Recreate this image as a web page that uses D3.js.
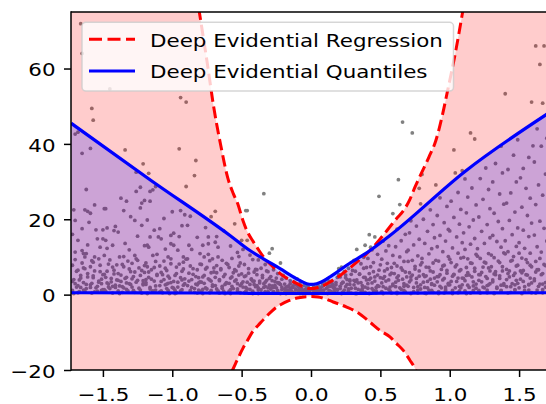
<!DOCTYPE html>
<html>
<head>
<meta charset="utf-8">
<script src="https://cdn.jsdelivr.net/npm/d3@7"></script>
<style>
  html, body { margin: 0; padding: 0; background: #ffffff; }
  svg { display: block; }
</style>
</head>
<body>
<svg id="chart" width="546" height="404"></svg>
<script>
// ---- Deep Evidential Regression: predicted band (lower / upper bound) ----
const derX = [-1.73, -1.4, -1.1, -0.95, -0.805, -0.75, -0.70, -0.65, -0.60, -0.56, -0.53, -0.49, -0.46, -0.415, -0.38, -0.34, -0.28, -0.247, -0.22, -0.16, -0.10, -0.05, 0, 0.05, 0.11, 0.16, 0.21, 0.257, 0.33, 0.425, 0.497, 0.569, 0.617, 0.665, 0.713, 0.75, 0.79, 0.85, 0.90, 0.945, 0.985, 1.04, 1.093, 1.2, 1.4, 1.73];
const derUpper = [420, 260, 150, 108, 75, 62, 49.5, 39.5, 31.0, 26.8, 24.3, 19.6, 16.8, 14.0, 12.0, 9.9, 7.6, 6.5, 5.5, 4.1, 2.9, 2.0, 1.6, 1.9, 2.8, 3.9, 5.1, 6.4, 8.6, 11.7, 14.7, 18.0, 20.2, 22.2, 25.3, 28.6, 31.8, 36.5, 40.9, 47.3, 54.2, 64, 75, 100, 160, 300];
const derLower = [-420, -240, -125, -85, -51, -42, -34, -28, -22.5, -19.6, -17.2, -14.2, -12.3, -9.5, -8.1, -6.5, -4.3, -3.3, -2.7, -1.6, -0.9, -0.6, -0.5, -0.6, -1.2, -1.95, -2.6, -3.3, -4.6, -7.3, -9.5, -11.2, -13.0, -14.8, -17.4, -19.6, -23.5, -30, -37, -45, -52, -62, -73, -100, -160, -400];

// ---- Deep Evidential Quantiles: lower / upper quantile ----
const dqX = [-1.73, -1.153, -0.584, -0.44, -0.343, -0.223, -0.103, -0.031, 0.0, 0.041, 0.137, 0.257, 0.425, 0.569, 1.117, 1.73];
const dqUpper = [45.5, 30.3, 15.7, 11.7, 9.5, 6.9, 4.2, 2.9, 2.7, 2.9, 4.7, 7.8, 11.7, 15.7, 32.9, 48.6];
const dqLower = [0.5, 0.45, 0.4, 0.35, 0.35, 0.3, 0.3, 0.3, 0.3, 0.3, 0.3, 0.35, 0.35, 0.4, 0.45, 0.5];

// ---- observed samples [x, y] ----
const observations = [
[-1.66,71.9],[-1.65,64.0],[-1.70,42.6],[-1.68,43.1],[-1.65,37.5],[-1.62,27.9],[-1.63,22.5],[-1.61,22.1],[-1.71,22.5],[-1.70,19.7],[-1.68,14.4],[-1.70,11.3],[-1.65,11.7],[-1.62,10.9],[-1.63,10.0],[-1.72,7.8],[-1.69,6.2],[-1.66,5.1],[-1.71,4.0],[-1.64,3.2],[-1.68,2.4],[-1.62,1.6],[-1.72,1.1],[-1.67,0.8],[-1.61,4.7],[-1.70,2.9],[-1.65,8.4],[-1.63,6.9],[-1.72,16.0],[-1.66,1.9],[-1.61,13.2],[-1.68,0.5],[-1.65,17.5],[-1.64,10.9],
[-1.58,49.4],[-1.57,46.3],[-1.59,38.8],[-1.56,23.8],[-1.60,19.2],[-1.55,17.2],[-1.54,14.8],[-1.56,10.0],[-1.53,9.5],[-1.59,7.4],[-1.52,6.1],[-1.57,5.0],[-1.51,4.1],[-1.58,3.0],[-1.54,2.2],[-1.50,1.3],[-1.56,0.7],[-1.53,3.6],[-1.59,1.9],[-1.52,12.6],[-1.57,8.6],[-1.59,21.6],
[-1.45,54.6],[-1.48,22.8],[-1.49,22.8],[-1.50,17.2],[-1.47,17.7],[-1.42,17.0],[-1.50,14.8],[-1.48,14.4],[-1.43,13.1],[-1.47,12.3],[-1.41,18.1],[-1.49,10.4],[-1.46,8.1],[-1.42,6.5],[-1.49,5.4],[-1.44,4.3],[-1.47,3.1],[-1.41,2.5],[-1.45,1.6],[-1.48,0.9],[-1.43,7.3],[-1.40,3.9],[-1.46,2.0],
[-1.34,38.4],[-1.37,25.6],[-1.33,24.8],[-1.35,22.3],[-1.30,20.7],[-1.39,16.6],[-1.38,10.0],[-1.35,10.1],[-1.36,8.0],[-1.31,6.8],[-1.39,5.6],[-1.33,4.6],[-1.37,3.5],[-1.30,2.7],[-1.35,1.8],[-1.32,1.0],[-1.38,2.3],[-1.31,11.9],[-1.34,13.6],[-1.36,0.6],
[-1.26,32.5],[-1.21,34.7],[-1.23,28.5],[-1.26,27.4],[-1.22,24.3],[-1.23,23.0],[-1.27,19.7],[-1.22,18.4],[-1.27,10.4],[-1.26,9.5],[-1.29,8.3],[-1.24,7.1],[-1.20,5.9],[-1.28,4.8],[-1.25,3.8],[-1.21,2.9],[-1.29,2.0],[-1.23,1.2],[-1.27,0.6],[-1.20,13.0],[-1.25,15.5],[-1.22,6.4],
[-1.17,32.2],[-1.14,27.8],[-1.16,27.4],[-1.12,28.7],[-1.20,25.0],[-1.16,24.8],[-1.16,15.3],[-1.18,13.1],[-1.17,12.6],[-1.14,10.4],[-1.11,10.7],[-1.19,8.4],[-1.13,7.2],[-1.17,6.0],[-1.11,5.1],[-1.15,4.1],[-1.19,3.2],[-1.12,2.3],[-1.16,1.5],[-1.14,0.8],[-1.18,19.8],[-1.13,17.1],
[-1.09,17.5],[-1.01,15.7],[-1.10,15.3],[-1.08,14.8],[-1.01,13.5],[-1.03,10.0],[-1.01,9.5],[-1.06,8.9],[-1.09,7.6],[-1.04,6.4],[-1.07,5.3],[-1.02,4.4],[-1.08,3.5],[-1.05,2.6],[-1.00,1.9],[-1.03,1.1],[-1.07,0.5],[-1.05,12.1],[-1.00,22.0],[-1.06,20.2],[-1.03,3.0],
[-0.94,52.3],[-0.90,51.1],[-0.95,38.7],[-0.90,28.7],[-0.94,22.3],[-0.91,21.2],[-0.99,16.3],[-0.95,15.4],[-0.99,13.1],[-0.92,10.0],[-0.92,8.6],[-0.97,7.3],[-0.93,6.2],[-0.98,5.1],[-0.91,4.2],[-0.96,3.3],[-0.92,2.5],[-0.99,1.7],[-0.94,1.0],[-0.97,0.5],[-0.96,11.8],[-0.93,18.3],
[-0.83,35.6],[-0.84,31.6],[-0.89,18.4],[-0.88,13.1],[-0.89,9.5],[-0.80,10.9],[-0.87,7.6],[-0.82,6.6],[-0.85,5.4],[-0.81,4.5],[-0.88,3.6],[-0.83,2.8],[-0.86,1.9],[-0.81,1.2],[-0.84,0.6],[-0.86,12.0],[-0.82,15.2],[-0.87,20.8],[-0.80,3.4],
[-0.78,13.1],[-0.74,13.5],[-0.74,15.3],[-0.77,10.0],[-0.74,10.7],[-0.71,9.5],[-0.72,20.7],[-0.79,8.0],[-0.76,6.8],[-0.72,5.8],[-0.78,4.7],[-0.73,3.9],[-0.77,3.0],[-0.71,2.2],[-0.75,1.5],[-0.79,0.9],[-0.73,0.5],[-0.76,17.8],[-0.70,7.1],
[-0.69,22.1],[-0.68,15.4],[-0.69,13.9],[-0.67,12.6],[-0.67,10.0],[-0.64,9.1],[-0.68,7.7],[-0.65,6.6],[-0.62,5.4],[-0.69,4.6],[-0.66,3.7],[-0.61,3.0],[-0.64,2.2],[-0.68,1.5],[-0.63,0.9],[-0.66,0.4],[-0.61,8.3],[-0.63,17.0],
[-0.55,18.8],[-0.50,14.4],[-0.58,12.9],[-0.53,11.2],[-0.57,9.6],[-0.51,8.4],[-0.59,7.2],[-0.54,6.3],[-0.52,5.2],[-0.58,4.4],[-0.55,3.6],[-0.50,2.9],[-0.57,2.2],[-0.53,1.5],[-0.59,0.9],[-0.51,0.5],[-0.56,5.8],[-0.52,10.1],
[-0.47,22.3],[-0.46,22.3],[-0.46,14.4],[-0.49,12.0],[-0.44,10.5],[-0.42,9.3],[-0.48,8.0],[-0.45,6.9],[-0.41,6.0],[-0.47,5.0],[-0.43,4.2],[-0.49,3.4],[-0.44,2.7],[-0.40,2.1],[-0.46,1.5],[-0.42,0.9],[-0.48,0.5],[-0.41,3.6],
[-0.34,26.8],[-0.38,9.2],[-0.33,8.0],[-0.36,7.0],[-0.31,6.1],[-0.39,5.3],[-0.35,4.5],[-0.32,3.8],[-0.37,3.1],[-0.30,2.5],[-0.34,1.9],[-0.38,1.3],[-0.31,0.8],[-0.36,0.4],[-0.33,2.2],[-0.39,6.6],
[-0.28,12.2],[-0.30,11.0],[-0.22,8.4],[-0.27,6.6],[-0.24,5.6],[-0.29,4.8],[-0.21,4.1],[-0.26,3.5],[-0.23,2.9],[-0.28,2.3],[-0.25,1.8],[-0.21,1.3],[-0.27,0.8],[-0.23,0.4],[-0.29,1.5],[-0.24,3.2],
[-0.10,4.2],[-0.18,4.4],[-0.15,3.7],[-0.12,3.1],[-0.19,2.8],[-0.16,2.3],[-0.13,1.9],[-0.11,1.5],[-0.17,1.2],[-0.14,0.9],[-0.19,0.6],[-0.12,0.4],[-0.15,1.6],[-0.18,2.0],[-0.11,2.6],
[-0.08,2.9],[-0.05,2.4],[-0.09,2.0],[-0.03,1.8],[-0.07,1.5],[-0.02,1.2],[-0.06,1.0],[-0.09,0.8],[-0.04,0.6],[-0.01,0.4],[-0.08,1.2],[-0.03,2.2],[-0.06,0.3],
[0.02,2.1],[0.05,2.5],[0.08,3.0],[0.01,1.6],[0.04,1.3],[0.07,1.9],[0.09,1.1],[0.03,0.8],[0.06,0.5],[0.09,2.4],[0.02,0.4],[0.05,1.0],[0.08,0.7],
[0.20,6.9],[0.12,4.2],[0.15,3.6],[0.18,3.2],[0.11,2.7],[0.14,2.2],[0.17,1.8],[0.19,1.4],[0.13,1.1],[0.16,0.7],[0.11,0.4],[0.19,4.6],[0.16,2.6],[0.13,3.5],
[0.22,7.3],[0.27,7.0],[0.24,6.1],[0.29,5.4],[0.21,4.7],[0.26,4.0],[0.23,3.3],[0.28,2.7],[0.25,2.1],[0.21,1.6],[0.27,1.1],[0.23,0.7],[0.29,0.4],[0.25,5.2],[0.28,3.6],
[0.33,12.0],[0.39,13.1],[0.31,9.1],[0.36,8.2],[0.38,7.0],[0.32,6.2],[0.35,5.4],[0.39,4.6],[0.31,3.8],[0.34,3.1],[0.37,2.4],[0.32,1.7],[0.36,1.1],[0.39,0.6],[0.33,0.3],[0.38,9.9],
[0.49,26.1],[0.42,15.9],[0.46,15.3],[0.44,11.9],[0.48,10.7],[0.41,9.6],[0.45,8.5],[0.43,7.4],[0.49,6.5],[0.42,5.6],[0.46,4.7],[0.40,3.9],[0.44,3.1],[0.48,2.4],[0.41,1.7],[0.45,1.1],[0.47,0.5],[0.43,12.6],
[0.59,21.5],[0.52,14.2],[0.56,13.0],[0.54,11.6],[0.59,10.4],[0.51,9.4],[0.55,8.3],[0.58,7.2],[0.53,6.3],[0.57,5.3],[0.50,4.5],[0.54,3.6],[0.59,2.8],[0.52,2.1],[0.56,1.4],[0.51,0.8],[0.58,0.4],
[0.66,45.8],[0.63,30.5],[0.64,23.9],[0.62,17.4],[0.68,16.0],[0.65,14.3],[0.61,12.7],[0.69,11.4],[0.64,10.0],[0.67,8.8],[0.62,7.6],[0.66,6.5],[0.60,5.6],[0.69,4.7],[0.63,3.8],[0.67,2.9],[0.61,2.1],[0.65,1.4],[0.68,0.7],[0.62,0.3],
[0.73,42.9],[0.80,31.9],[0.78,28.2],[0.79,24.1],[0.72,19.6],[0.76,18.2],[0.71,16.4],[0.78,14.7],[0.74,13.2],[0.70,11.8],[0.77,10.3],[0.73,9.1],[0.79,7.9],[0.75,6.8],[0.71,5.8],[0.78,4.9],[0.72,3.9],[0.76,3.1],[0.70,2.2],[0.79,1.5],[0.74,0.8],[0.77,0.4],
[0.90,29.1],[0.86,22.5],[0.81,20.0],[0.88,18.6],[0.84,16.8],[0.89,15.1],[0.82,13.6],[0.87,12.2],[0.85,10.8],[0.80,9.6],[0.88,8.4],[0.83,7.3],[0.86,6.3],[0.81,5.3],[0.89,4.4],[0.84,3.5],[0.87,2.7],[0.82,1.9],[0.85,1.2],[0.88,0.6],[0.83,0.3],
[0.93,25.7],[0.98,23.4],[0.91,21.0],[0.96,19.1],[0.99,17.3],[0.93,15.7],[0.97,14.2],[0.91,12.7],[0.95,11.4],[0.99,10.1],[0.92,8.9],[0.96,7.8],[0.94,6.7],[0.98,5.7],[0.91,4.8],[0.95,3.9],[0.99,3.0],[0.93,2.2],[0.97,1.5],[0.92,0.8],[0.96,0.4],
[1.03,38.4],[1.04,32.3],[1.09,32.9],[1.06,27.1],[1.01,24.8],[1.08,22.6],[1.03,20.5],[1.07,18.7],[1.00,16.9],[1.05,15.3],[1.09,13.8],[1.02,12.4],[1.06,11.0],[1.08,9.7],[1.01,8.5],[1.04,7.4],[1.07,6.3],[1.03,5.3],[1.09,4.4],[1.05,3.5],[1.00,2.6],[1.08,1.8],[1.02,1.1],[1.06,0.5],
[1.15,42.9],[1.18,41.3],[1.11,30.7],[1.16,28.3],[1.13,25.9],[1.19,23.8],[1.12,21.7],[1.17,19.8],[1.14,18.0],[1.10,16.4],[1.18,14.9],[1.15,13.4],[1.11,12.0],[1.19,10.7],[1.13,9.5],[1.16,8.3],[1.12,7.2],[1.18,6.2],[1.14,5.2],[1.10,4.3],[1.17,3.4],[1.13,2.5],[1.19,1.7],[1.11,1.0],[1.15,0.4],
[1.26,33.6],[1.22,30.8],[1.28,27.9],[1.24,25.3],[1.29,22.8],[1.21,20.6],[1.27,18.6],[1.23,16.8],[1.29,15.1],[1.25,13.6],[1.20,12.2],[1.28,10.9],[1.22,9.6],[1.26,8.4],[1.24,7.3],[1.29,6.3],[1.21,5.3],[1.27,4.3],[1.23,3.4],[1.28,2.6],[1.25,1.8],[1.21,1.1],[1.27,0.5],
[1.40,53.3],[1.37,39.4],[1.38,32.3],[1.33,34.8],[1.31,29.9],[1.36,26.7],[1.39,24.0],[1.32,21.6],[1.35,19.4],[1.38,17.5],[1.31,15.7],[1.34,14.1],[1.37,12.6],[1.39,11.1],[1.32,9.8],[1.36,8.5],[1.30,7.4],[1.38,6.3],[1.33,5.3],[1.36,4.3],[1.31,3.4],[1.39,2.5],[1.34,1.7],[1.37,1.0],[1.32,0.4],
[1.49,41.1],[1.46,37.0],[1.42,33.2],[1.48,29.9],[1.44,27.0],[1.41,24.3],[1.47,21.9],[1.43,19.7],[1.49,17.7],[1.45,15.9],[1.40,14.3],[1.48,12.8],[1.42,11.4],[1.46,10.1],[1.44,8.9],[1.49,7.8],[1.41,6.7],[1.47,5.7],[1.43,4.7],[1.48,3.8],[1.45,2.9],[1.41,2.1],[1.47,1.3],[1.44,0.6],
[1.59,51.1],[1.53,33.5],[1.60,39.5],[1.57,36.4],[1.51,31.0],[1.55,28.2],[1.58,25.6],[1.52,23.2],[1.56,21.0],[1.59,19.0],[1.53,17.1],[1.57,15.4],[1.50,13.8],[1.54,12.3],[1.58,11.0],[1.52,9.7],[1.56,8.5],[1.59,7.4],[1.51,6.3],[1.55,5.3],[1.58,4.4],[1.53,3.5],[1.57,2.6],[1.50,1.8],[1.54,1.1],[1.59,0.5],
[1.62,66.0],[1.68,66.0],[1.65,61.1],[1.67,50.8],[1.66,39.4],[1.63,44.0],[1.70,41.5],[1.61,35.2],[1.69,32.0],[1.64,29.1],[1.67,26.4],[1.62,23.9],[1.71,21.6],[1.65,19.5],[1.68,17.6],[1.61,15.8],[1.70,14.2],[1.63,12.7],[1.66,11.3],[1.72,10.0],[1.62,8.8],[1.69,7.7],[1.64,6.6],[1.67,5.6],[1.71,4.6],[1.61,3.7],[1.65,2.8],[1.69,2.0],[1.63,1.2],[1.67,0.5],
// dense band close to zero
[-1.71,0.3],[-1.64,1.2],[-1.69,2.0],[-1.62,2.7],[-1.72,3.5],[-1.66,4.4],[-1.61,5.6],[-1.68,6.5],[-1.64,7.1],[-1.70,9.3],[-1.63,0.9],[-1.67,3.9],
[-1.58,0.4],[-1.51,1.1],[-1.55,1.8],[-1.59,2.6],[-1.53,3.3],[-1.57,4.5],[-1.50,5.3],[-1.56,6.3],[-1.52,7.8],[-1.58,9.0],[-1.54,0.9],[-1.51,2.9],
[-1.43,0.4],[-1.49,1.3],[-1.41,1.9],[-1.46,2.8],[-1.44,3.4],[-1.48,4.6],[-1.42,5.5],[-1.47,6.2],[-1.40,7.9],[-1.45,9.2],[-1.49,0.7],[-1.43,2.2],
[-1.38,0.3],[-1.33,1.4],[-1.36,2.1],[-1.31,2.9],[-1.39,3.8],[-1.34,4.3],[-1.37,5.2],[-1.30,6.1],[-1.35,7.4],[-1.32,8.9],[-1.39,1.0],[-1.33,3.1],
[-1.22,0.4],[-1.28,1.1],[-1.24,1.7],[-1.21,2.6],[-1.26,3.3],[-1.29,4.2],[-1.23,5.1],[-1.27,6.0],[-1.20,7.7],[-1.25,9.1],[-1.28,0.8],[-1.21,3.7],
[-1.18,0.3],[-1.12,1.2],[-1.16,1.9],[-1.19,2.7],[-1.13,3.6],[-1.17,4.6],[-1.11,5.4],[-1.15,6.6],[-1.18,7.4],[-1.12,8.8],[-1.14,1.0],[-1.19,4.0],
[-1.02,0.3],[-1.08,1.0],[-1.04,1.6],[-1.09,2.4],[-1.01,3.2],[-1.06,4.0],[-1.03,4.9],[-1.08,5.9],[-1.05,7.0],[-1.01,8.2],[-1.09,0.7],[-1.04,2.8],
[-0.98,0.3],[-0.93,1.3],[-0.96,2.0],[-0.91,2.9],[-0.99,3.5],[-0.94,4.5],[-0.97,5.6],[-0.92,6.8],[-0.95,8.1],[-0.90,9.4],[-0.98,1.1],[-0.93,3.9],
[-0.82,0.4],[-0.87,1.1],[-0.84,1.6],[-0.89,2.4],[-0.81,3.1],[-0.86,4.0],[-0.83,4.8],[-0.88,5.7],[-0.85,6.9],[-0.80,8.1],[-0.87,0.7],[-0.82,2.6],
[-0.78,0.3],[-0.72,1.1],[-0.76,1.8],[-0.71,2.6],[-0.79,3.3],[-0.74,4.2],[-0.77,5.1],[-0.70,6.0],[-0.75,7.2],[-0.73,9.0],[-0.78,1.4],[-0.72,3.6],
[-0.62,0.3],[-0.67,1.0],[-0.64,1.7],[-0.69,2.4],[-0.61,3.2],[-0.66,4.0],[-0.63,4.8],[-0.68,5.8],[-0.65,6.9],[-0.60,8.0],[-0.67,0.6],[-0.62,2.7],
[-0.58,0.3],[-0.53,1.0],[-0.56,1.6],[-0.51,2.4],[-0.59,3.0],[-0.54,3.9],[-0.57,4.7],[-0.50,5.5],[-0.55,6.6],[-0.52,7.6],[-0.58,1.3],[-0.53,2.9],
[-0.42,0.3],[-0.47,0.9],[-0.44,1.4],[-0.49,2.0],[-0.41,2.7],[-0.46,3.3],[-0.43,4.0],[-0.48,4.8],[-0.45,5.7],[-0.40,6.7],[-0.47,1.9],[-0.42,3.6],
[-0.38,0.3],[-0.33,0.8],[-0.36,1.3],[-0.31,1.8],[-0.39,2.4],[-0.34,2.9],[-0.37,3.6],[-0.30,4.3],[-0.35,5.1],[-0.32,6.3],[-0.38,1.8],[-0.33,3.3],
[-0.22,0.3],[-0.27,0.7],[-0.24,1.1],[-0.29,1.6],[-0.21,2.0],[-0.26,2.5],[-0.23,3.1],[-0.28,3.7],[-0.25,4.4],[-0.20,5.1],[-0.27,1.9],[-0.22,2.7],
[-0.18,0.3],[-0.13,0.6],[-0.16,0.9],[-0.11,1.2],[-0.19,1.5],[-0.14,1.8],[-0.17,2.1],[-0.10,2.5],[-0.15,2.9],[-0.12,3.3],[-0.18,1.0],[-0.13,2.3],
[-0.08,0.3],[-0.03,0.5],[-0.06,0.7],[-0.01,0.9],[-0.09,1.1],[-0.04,1.4],[-0.07,1.7],[-0.02,2.0],[-0.05,1.2],[-0.08,1.8],[-0.04,0.8],[-0.01,1.5],
[0.02,0.3],[0.07,0.6],[0.04,0.9],[0.09,1.2],[0.01,1.4],[0.06,1.7],[0.03,2.0],[0.08,2.2],[0.05,1.5],[0.02,1.0],[0.07,1.3],[0.04,0.5],
[0.12,0.3],[0.17,0.6],[0.14,0.9],[0.19,1.2],[0.11,1.6],[0.16,1.9],[0.13,2.3],[0.18,2.6],[0.15,3.0],[0.10,3.4],[0.17,1.4],[0.12,2.0],
[0.22,0.3],[0.27,0.8],[0.24,1.2],[0.29,1.7],[0.21,2.2],[0.26,2.7],[0.23,3.2],[0.28,3.9],[0.25,4.5],[0.20,5.3],[0.27,1.5],[0.22,2.9],
[0.32,0.3],[0.37,0.9],[0.34,1.4],[0.39,2.0],[0.31,2.6],[0.36,3.2],[0.33,3.9],[0.38,4.6],[0.35,5.5],[0.30,6.4],[0.37,1.6],[0.32,3.5],
[0.42,0.3],[0.47,1.0],[0.44,1.6],[0.49,2.2],[0.41,2.9],[0.46,3.6],[0.43,4.4],[0.48,5.2],[0.45,6.1],[0.40,7.2],[0.47,1.9],[0.42,4.0],
[0.52,0.3],[0.57,1.0],[0.54,1.7],[0.59,2.4],[0.51,3.1],[0.56,3.9],[0.53,4.8],[0.58,5.7],[0.55,6.8],[0.50,7.9],[0.57,2.0],[0.52,4.3],
[0.62,0.6],[0.67,1.1],[0.64,1.8],[0.69,2.5],[0.61,3.3],[0.66,4.1],[0.63,5.0],[0.68,6.0],[0.65,7.1],[0.60,8.3],[0.67,2.2],[0.62,4.5],
[0.72,0.3],[0.77,1.2],[0.74,1.9],[0.79,2.6],[0.71,3.4],[0.76,4.3],[0.73,5.2],[0.78,6.3],[0.75,7.5],[0.70,8.8],[0.77,2.1],[0.72,4.7],
[0.82,0.4],[0.87,1.1],[0.84,1.8],[0.89,2.5],[0.81,3.3],[0.86,4.1],[0.83,5.0],[0.88,6.0],[0.85,7.2],[0.80,8.5],[0.87,2.9],[0.82,4.8],
[0.92,0.3],[0.97,1.1],[0.94,1.8],[0.99,2.6],[0.91,3.4],[0.96,4.3],[0.93,5.3],[0.98,6.4],[0.95,7.6],[0.90,9.1],[0.97,2.0],[0.92,4.8],
[1.02,0.3],[1.07,1.0],[1.04,1.8],[1.09,2.6],[1.01,3.5],[1.06,4.4],[1.03,5.4],[1.08,6.6],[1.05,7.9],[1.00,9.4],[1.07,2.2],[1.02,4.9],
[1.12,0.3],[1.17,1.1],[1.14,1.9],[1.19,2.8],[1.11,3.7],[1.16,4.7],[1.13,5.8],[1.18,7.0],[1.15,8.4],[1.10,9.9],[1.17,2.3],[1.12,5.1],
[1.22,0.4],[1.27,1.2],[1.24,2.0],[1.29,2.9],[1.21,3.8],[1.26,4.8],[1.23,5.9],[1.28,7.1],[1.25,8.6],[1.20,10.2],[1.27,2.4],[1.22,5.3],
[1.32,0.3],[1.37,1.1],[1.34,2.0],[1.39,2.9],[1.31,3.9],[1.36,5.0],[1.33,6.1],[1.38,7.4],[1.35,8.9],[1.30,10.5],[1.37,2.5],[1.32,5.5],
[1.42,0.4],[1.47,1.2],[1.44,2.1],[1.49,3.0],[1.41,4.0],[1.46,5.1],[1.43,6.3],[1.48,7.6],[1.45,9.1],[1.40,10.8],[1.47,2.6],[1.42,5.6],
[1.52,0.3],[1.57,1.2],[1.54,2.1],[1.59,3.1],[1.51,4.1],[1.56,5.2],[1.53,6.4],[1.58,7.8],[1.55,9.3],[1.50,11.0],[1.57,2.7],[1.52,5.8],
[1.62,0.4],[1.67,1.3],[1.64,2.2],[1.69,3.2],[1.61,4.2],[1.66,5.3],[1.63,6.6],[1.68,8.0],[1.65,9.6],[1.71,11.3],[1.67,2.8],[1.62,6.0]
];

// ---- axes ticks ----
const xTicks = [-1.5, -1.0, -0.5, 0.0, 0.5, 1.0, 1.5];
const xTickLabels = ["\u22121.5", "\u22121.0", "\u22120.5", "0.0", "0.5", "1.0", "1.5"];
const yTicks = [-20, 0, 20, 40, 60];
const yTickLabels = ["\u221220", "0", "20", "40", "60"];

// ---- legend entries ----
const legendLabels = ["Deep Evidential Regression", "Deep Evidential Quantiles"];
const legendColors = ["#ff0000", "#0000ff"];

// ---------------------------------------------------------------------------
const FONT = "'DejaVu Sans', 'Liberation Sans', sans-serif";
const FONT_SIZE = 18.5;
const TEXT_SX = 1.157;           // horizontal text stretch of the figure
const plot = { left: 71, top: 12, right: 551, bottom: 370 };

const svg = d3.select("#chart");

const x = d3.scaleLinear().domain([-1.73, 1.73]).range([plot.left, plot.right]);
const y = d3.scaleLinear().domain([-20, 75]).range([plot.bottom, plot.top]);

svg.append("defs").append("clipPath").attr("id", "plotClip")
  .append("rect")
  .attr("x", plot.left).attr("y", plot.top)
  .attr("width", plot.right - plot.left).attr("height", plot.bottom - plot.top);

const body = svg.append("g").attr("clip-path", "url(#plotClip)");

// samples
body.append("g").selectAll("circle")
  .data(observations)
  .join("circle")
  .attr("cx", d => x(d[0]))
  .attr("cy", d => y(d[1]))
  .attr("r", 1.9)
  .attr("fill", "#808080");

// DER band
const derRows = derX.map((v, i) => ({ x: v, lo: derLower[i], hi: derUpper[i] }));
body.append("path")
  .datum(derRows)
  .attr("d", d3.area().x(d => x(d.x)).y0(d => y(d.lo)).y1(d => y(d.hi)).curve(d3.curveMonotoneX))
  .attr("fill", "#ff0000").attr("fill-opacity", 0.2);

// DEQ band
const dqRows = dqX.map((v, i) => ({ x: v, lo: dqLower[i], hi: dqUpper[i] }));
body.append("path")
  .datum(dqRows)
  .attr("d", d3.area().x(d => x(d.x)).y0(d => y(d.lo)).y1(d => y(d.hi)).curve(d3.curveMonotoneX))
  .attr("fill", "#0000ff").attr("fill-opacity", 0.2);

// DER bound lines (dashed)
["lo", "hi"].forEach(k => {
  body.append("path")
    .datum(derRows)
    .attr("d", d3.line().x(d => x(d.x)).y(d => y(d[k])).curve(d3.curveMonotoneX))
    .attr("fill", "none")
    .attr("stroke", legendColors[0])
    .attr("stroke-width", 3)
    .attr("stroke-dasharray", "11.5,5");
});

// DEQ quantile lines
["lo", "hi"].forEach(k => {
  body.append("path")
    .datum(dqRows)
    .attr("d", d3.line().x(d => x(d.x)).y(d => y(d[k])).curve(d3.curveMonotoneX))
    .attr("fill", "none")
    .attr("stroke", legendColors[1])
    .attr("stroke-width", 3.2)
    .attr("stroke-linejoin", "round");
});

// axes
const xAxis = svg.append("g")
  .attr("transform", `translate(0,${plot.bottom})`)
  .call(d3.axisBottom(x).tickValues(xTicks).tickFormat((d, i) => xTickLabels[i]).tickSize(7).tickSizeOuter(0));
const yAxis = svg.append("g")
  .attr("transform", `translate(${plot.left},0)`)
  .call(d3.axisLeft(y).tickValues(yTicks).tickFormat((d, i) => yTickLabels[i]).tickSize(7).tickSizeOuter(0));

[xAxis, yAxis].forEach(a => {
  a.select(".domain").remove();
  a.selectAll(".tick line").attr("stroke", "#000").attr("stroke-width", 1.5);
  a.selectAll(".tick text")
    .attr("fill", "#000")
    .style("font-family", FONT)
    .style("font-size", FONT_SIZE + "px")
    .attr("dy", null)
    .attr("transform", `scale(${TEXT_SX},1)`);
});
xAxis.selectAll(".tick text").attr("x", 0).attr("y", 30.7).attr("text-anchor", "middle");
yAxis.selectAll(".tick text").attr("x", -15.5 / TEXT_SX).attr("y", 7.3).attr("text-anchor", "end");

// spines
const spines = svg.append("g").attr("stroke", "#000").attr("stroke-width", 1.5).attr("fill", "none");
spines.append("line").attr("x1", plot.left).attr("x2", plot.left).attr("y1", plot.top - 0.75).attr("y2", plot.bottom + 0.75);
spines.append("line").attr("x1", plot.left).attr("x2", plot.right).attr("y1", plot.bottom).attr("y2", plot.bottom);
spines.append("line").attr("x1", plot.left).attr("x2", plot.right).attr("y1", plot.top).attr("y2", plot.top);
spines.append("line").attr("x1", plot.right).attr("x2", plot.right).attr("y1", plot.top).attr("y2", plot.bottom);

// legend
const legend = svg.append("g");
legend.append("rect")
  .attr("x", 82).attr("y", 22.3).attr("width", 371.5).attr("height", 68.8)
  .attr("rx", 4).attr("ry", 4)
  .attr("fill", "#ffffff").attr("fill-opacity", 0.8)
  .attr("stroke", "#cccccc").attr("stroke-opacity", 0.8).attr("stroke-width", 1.5);

const rows = legend.selectAll("g.entry")
  .data(legendLabels)
  .join("g")
  .attr("class", "entry")
  .attr("transform", (d, i) => `translate(0,${i === 0 ? 39.3 : 71})`);

rows.append("line")
  .attr("x1", 89).attr("x2", 135).attr("y1", 0).attr("y2", 0)
  .attr("stroke", (d, i) => legendColors[i])
  .attr("stroke-width", (d, i) => i === 0 ? 3 : 3.2)
  .attr("stroke-dasharray", (d, i) => i === 0 ? "13,5.5" : null);

rows.append("text")
  .attr("transform", `translate(150,7.3) scale(${TEXT_SX},1)`)
  .style("font-family", FONT)
  .style("font-size", FONT_SIZE + "px")
  .attr("fill", "#000")
  .text(d => d);
</script>
</body>
</html>
